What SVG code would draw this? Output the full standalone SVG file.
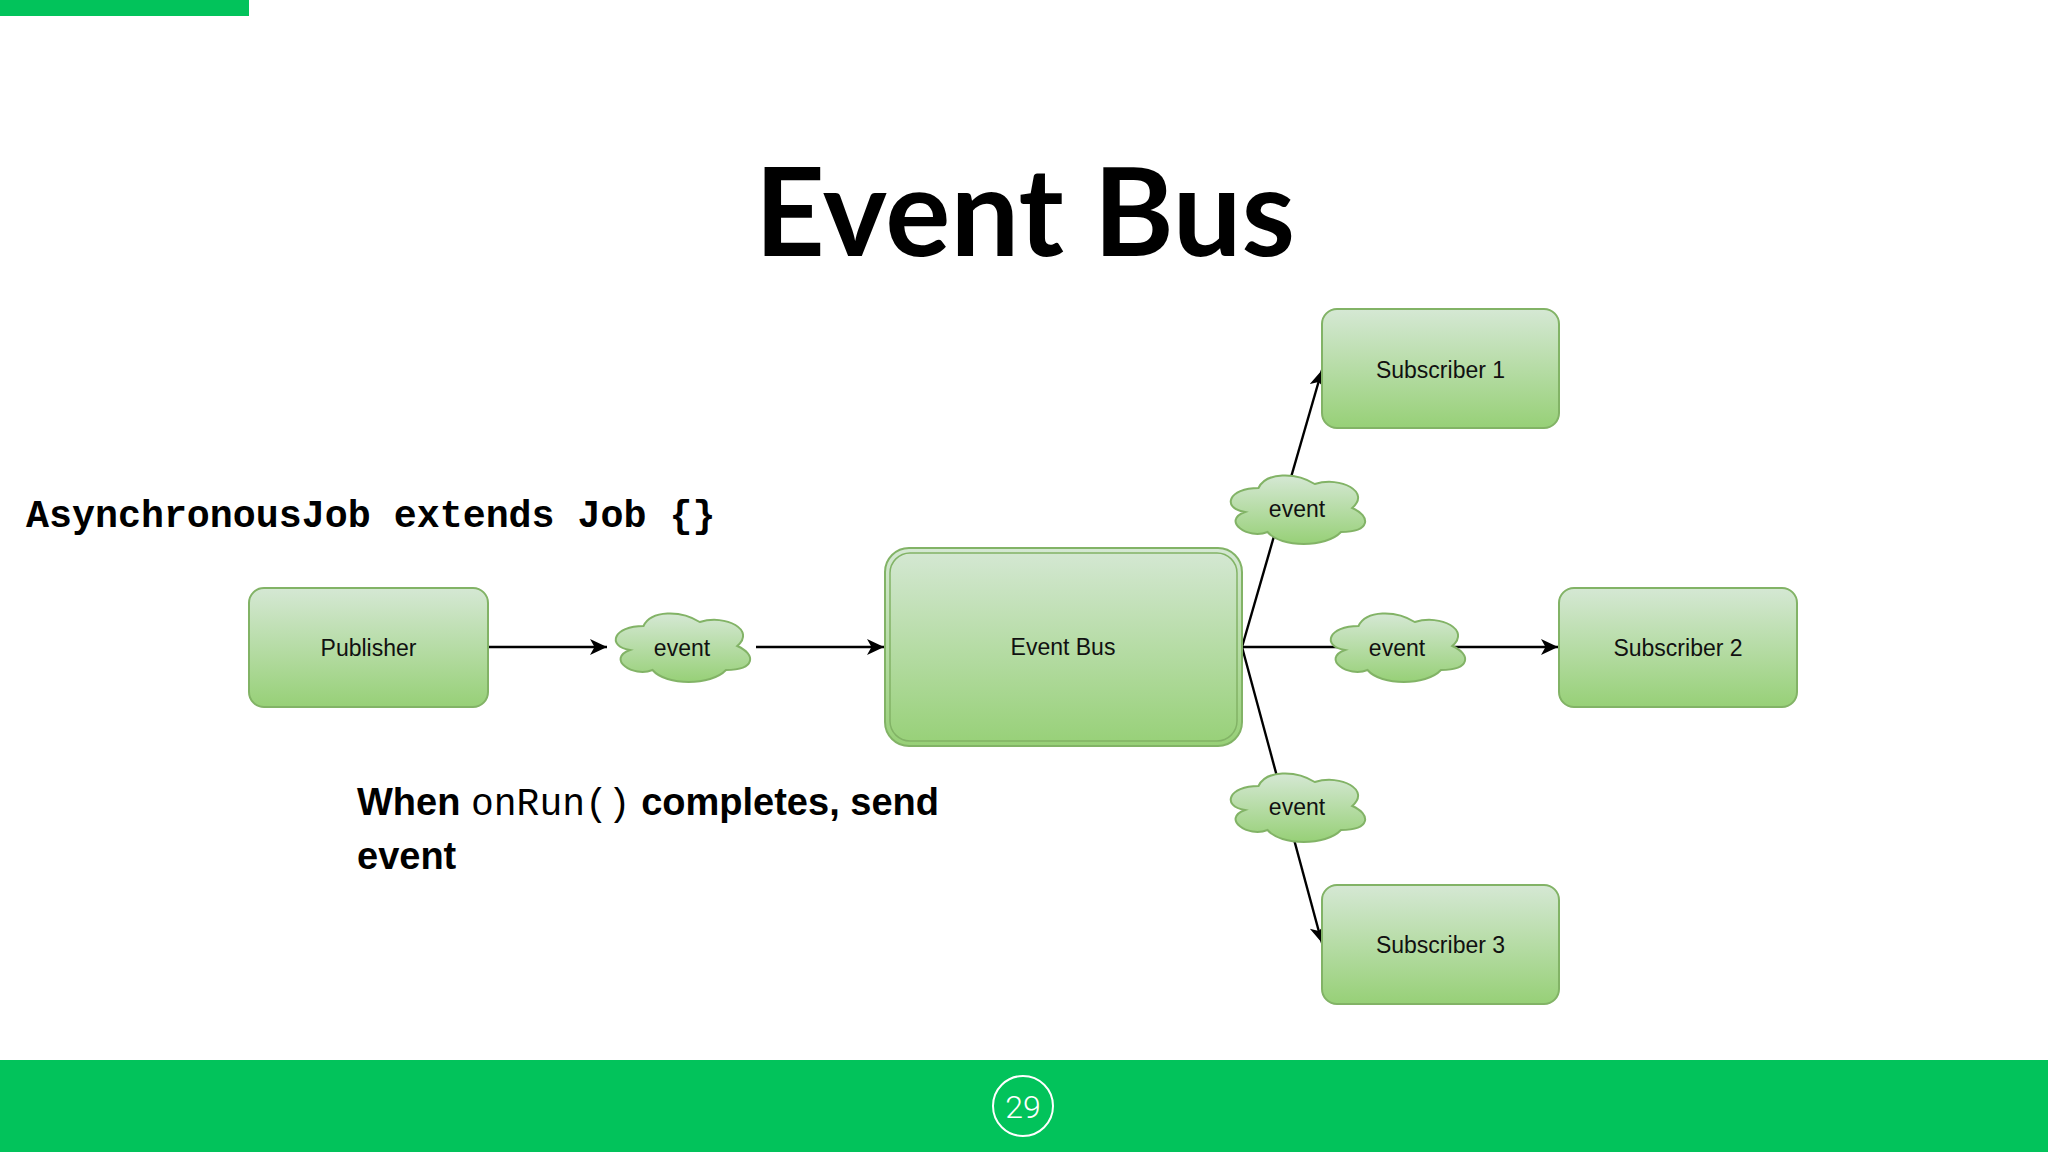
<svg xmlns="http://www.w3.org/2000/svg" xmlns:xlink="http://www.w3.org/1999/xlink" width="2048" height="1152" viewBox="0 0 2048 1152">
  <defs>
    <linearGradient id="gfill" x1="0" y1="0" x2="0" y2="1">
      <stop offset="0" stop-color="#d5e8d4"/>
      <stop offset="1" stop-color="#97d077"/>
    </linearGradient>
    <marker id="arr" markerUnits="userSpaceOnUse" markerWidth="20" markerHeight="18" refX="17" refY="8" orient="auto">
      <path d="M0,0 L17,8 L0,16 L4.5,8 Z" fill="#000"/>
    </marker>
    <path id="cloud" d="M37.5,20 C7.5,20 0,40 24,44 C0,52.8 27,72 46.5,64 C60,80 105,80 120,64 C150,64 150,48 131.25,40 C150,24 120,8 93.75,16 C75,4 45,4 37.5,20 Z"/>
  </defs>
  <style>
    .node { fill: url(#gfill); stroke: #82b366; stroke-width: 2; }
    .inner { fill: none; stroke: #82b366; stroke-width: 1.5; }
    .lbl { font-family: "Liberation Sans", Arial, sans-serif; font-size: 23px; fill: #111; text-anchor: middle; }
    .edge { fill: none; stroke: #000; stroke-width: 2.4; marker-end: url(#arr); }
    .green { fill: #02c35b; }
  </style>

  <rect width="2048" height="1152" fill="#fff"/>
  <rect class="green" x="0" y="0" width="249" height="16"/>
  <rect class="green" x="0" y="1060" width="2048" height="92"/>
  <circle cx="1023" cy="1106" r="30" fill="none" stroke="#fff" stroke-width="2"/>
  <text x="1023" y="1118" font-family="Roboto, 'Liberation Sans', sans-serif" font-weight="300" font-size="32" fill="#fff" text-anchor="middle">29</text>

  <text x="1025" y="256" font-family="Lato, 'Liberation Sans', sans-serif" font-weight="bold" font-size="122" fill="#000" text-anchor="middle">Event Bus</text>

  <text x="26" y="527" font-family="'Liberation Mono', 'Courier New', monospace" font-weight="bold" font-size="38.3" fill="#000">AsynchronousJob extends Job {}</text>

  <text x="357" y="815" font-family="'Liberation Sans', Arial, sans-serif" font-weight="bold" font-size="38" fill="#000">When <tspan font-family="'Liberation Mono', 'Courier New', monospace" font-weight="normal">onRun()</tspan> completes, send</text>
  <text x="357" y="869" font-family="'Liberation Sans', Arial, sans-serif" font-weight="bold" font-size="38" fill="#000">event</text>

  <g id="connectors">
    <line class="edge" x1="488" y1="647" x2="607" y2="647"/>
    <line class="edge" x1="756" y1="647" x2="884" y2="647"/>
    <line class="edge" x1="1242" y1="647" x2="1558" y2="647"/>
    <line class="edge" x1="1242" y1="647" x2="1322" y2="370"/>
    <line class="edge" x1="1242" y1="647" x2="1322" y2="943"/>
  </g>

  <g id="publisher">
    <rect class="node" x="249" y="588" width="239" height="119" rx="15"/>
    <text class="lbl" x="368.5" y="656">Publisher</text>
  </g>
  <g id="event1">
    <use xlink:href="#cloud" class="node" transform="translate(606,606)"/>
    <text class="lbl" x="682" y="656">event</text>
  </g>
  <g id="eventbus">
    <rect class="node" x="885" y="548" width="357" height="198" rx="24"/>
    <rect class="inner" x="890" y="553" width="347" height="188" rx="20"/>
    <text class="lbl" x="1063" y="655">Event Bus</text>
  </g>
  <g id="event-top">
    <use xlink:href="#cloud" class="node" transform="translate(1221,468)"/>
    <text class="lbl" x="1297" y="517">event</text>
  </g>
  <g id="event-mid">
    <use xlink:href="#cloud" class="node" transform="translate(1321,606)"/>
    <text class="lbl" x="1397" y="656">event</text>
  </g>
  <g id="event-bottom">
    <use xlink:href="#cloud" class="node" transform="translate(1221,766)"/>
    <text class="lbl" x="1297" y="815">event</text>
  </g>
  <g id="subscriber1">
    <rect class="node" x="1322" y="309" width="237" height="119" rx="15"/>
    <text class="lbl" x="1440.5" y="378">Subscriber 1</text>
  </g>
  <g id="subscriber2">
    <rect class="node" x="1559" y="588" width="238" height="119" rx="15"/>
    <text class="lbl" x="1678" y="656">Subscriber 2</text>
  </g>
  <g id="subscriber3">
    <rect class="node" x="1322" y="885" width="237" height="119" rx="15"/>
    <text class="lbl" x="1440.5" y="953">Subscriber 3</text>
  </g>
</svg>
